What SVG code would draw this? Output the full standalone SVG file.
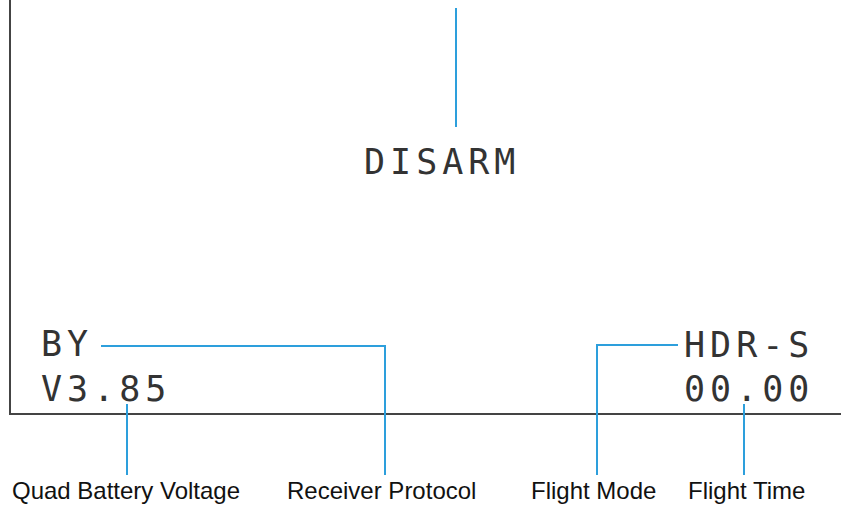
<svg xmlns="http://www.w3.org/2000/svg" width="841" height="506" viewBox="0 0 841 506">
<style>
.osd{font-family:"DejaVu Sans Mono","Liberation Mono",monospace;font-size:35px;fill:#333;letter-spacing:5px}
.lbl{font-family:"Liberation Sans",Arial,sans-serif;font-size:24px;fill:#111}
.frame{stroke:#444;stroke-width:2;fill:none}
.lead{stroke:#2d9fdc;stroke-width:2;fill:none}
</style>
<rect width="841" height="506" fill="#fff"/>
<g id="frame">
<polyline class="frame" points="10,0 10,414 841,414"/>
</g>
<g id="connectors">
<line class="lead" x1="456" y1="8" x2="456" y2="127"/>
<polyline class="lead" points="101,346 385,346 385,475"/>
<line class="lead" x1="127" y1="404" x2="127" y2="475"/>
<polyline class="lead" points="678,345 597,345 597,475"/>
<line class="lead" x1="744" y1="404" x2="744" y2="475"/>
</g>
<g id="disarm"><text class="osd" x="364" y="174">DISARM</text></g>
<g id="protocol"><text class="osd" x="41" y="356">BY</text></g>
<g id="voltage"><text class="osd" x="41" y="401">V3.85</text></g>
<g id="mode"><text class="osd" x="684" y="357">HDR-S</text></g>
<g id="time"><text class="osd" x="684" y="401">00.00</text></g>
<g id="label-voltage"><text class="lbl" x="12" y="499" textLength="228">Quad Battery Voltage</text></g>
<g id="label-protocol"><text class="lbl" x="287" y="499">Receiver Protocol</text></g>
<g id="label-mode"><text class="lbl" x="531" y="499">Flight Mode</text></g>
<g id="label-time"><text class="lbl" x="688" y="499">Flight Time</text></g>
</svg>
